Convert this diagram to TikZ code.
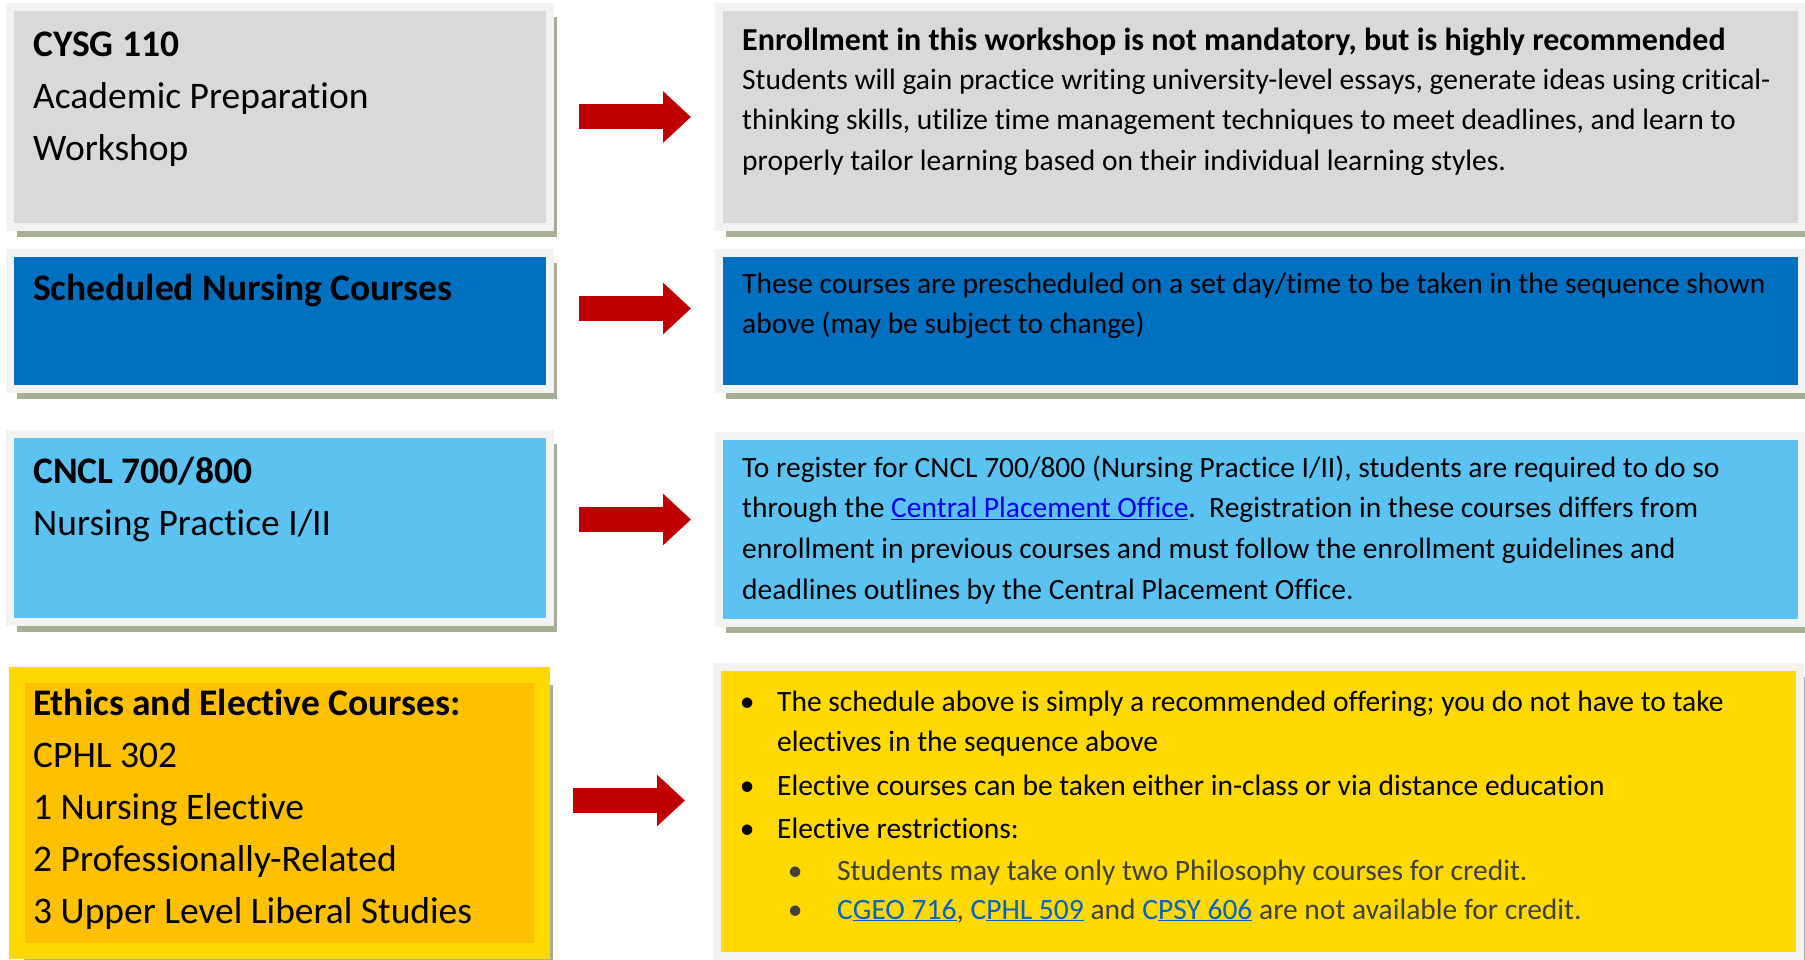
\documentclass[tikz,border=0pt]{standalone}
\usepackage{fontspec}
\setmainfont{Carlito}[Ligatures=NoCommon]
\usetikzlibrary{arrows.meta, calc, shadows}

\definecolor{boxgray}{HTML}{D9D9D9}
\definecolor{framegray}{HTML}{F2F2F2}
\definecolor{shadowolive}{HTML}{A6AE93}
\definecolor{darkblue}{HTML}{0070C0}
\definecolor{lightblue}{HTML}{5BC2F1}
\definecolor{boxyellow}{HTML}{FFD900}
\definecolor{boxorange}{HTML}{FFC000}
\definecolor{arrowred}{HTML}{C00000}
\definecolor{subgray}{HTML}{404040}
\definecolor{linkblue}{HTML}{0000EE}
\definecolor{hrefblue}{HTML}{0563C1}

\newcommand{\itm}{\makebox[10pt][c]{\textbullet}\hspace{25pt}}
\newcommand{\subitm}{\hspace*{48pt}\makebox[10pt][c]{\textbullet}\hspace{37pt}}

\tikzset{
  panel/.style={draw=framegray, line width=8pt, outer sep=4pt, inner sep=0pt, anchor=north west,
    drop shadow={shadow xshift=7pt, shadow yshift=-10pt, fill=shadowolive, opacity=1}},
  headtext/.style={anchor=base west, inner sep=0pt, font=\fontsize{37.5}{52}\selectfont},
  bodytext/.style={anchor=base west, inner sep=0pt, font=\fontsize{29.5}{40.7}\selectfont},
  redarrow/.style={draw=arrowred, line width=25pt, -{Triangle[length=28pt, width=50pt]}, shorten <=25pt, shorten >=24pt}
}

\begin{document}
\begin{tikzpicture}[x=1pt, y=-1pt]
    \useasboundingbox (0,0) rectangle (1805,960);
    % left column
    \node[panel, fill=boxgray, minimum width=540pt, minimum height=220pt] (l1) at (6,3) {};
    \node[panel, fill=darkblue, minimum width=540pt, minimum height=136pt] (l2) at (6,249) {};
    \node[panel, fill=lightblue, minimum width=540pt, minimum height=188pt] (l3) at (6,430) {};
    \node[panel, draw=boxyellow, fill=boxorange, line width=16pt, outer sep=8pt, minimum width=525pt, minimum height=276pt,
      drop shadow={shadow xshift=11pt, shadow yshift=-10pt, fill=shadowolive, opacity=1}] (l4) at (9,667) {};
    % right column
    \node[panel, fill=boxgray, minimum width=1083pt, minimum height=220pt] (r1) at (715,3) {};
    \node[panel, fill=darkblue, minimum width=1083pt, minimum height=136pt] (r2) at (715,249) {};
    \node[panel, fill=lightblue, minimum width=1083pt, minimum height=187pt] (r3) at (715,432) {};
    \node[panel, fill=boxyellow, minimum width=1083pt, minimum height=289pt] (r4) at (713,663) {};

    \node[headtext] (t1) at (33,57) {\parbox[t]{500pt}{\textbf{CYSG 110}\\Academic Preparation\\Workshop}};
    \node[headtext] (t2) at (33,301) {\parbox[t]{500pt}{\textbf{Scheduled Nursing Courses}}};
    \node[headtext] (t3) at (33,483) {\parbox[t]{500pt}{\textbf{CNCL 700/800}\\Nursing Practice I/II}};
    \node[headtext] (t4) at (33,715) {\parbox[t]{500pt}{\textbf{Ethics and Elective Courses:}\\CPHL 302\\1 Nursing Elective\\2 Professionally-Related\\3 Upper Level Liberal Studies}};

    \node[bodytext] (s1) at (742,51) {\parbox[t]{1050pt}{{\fontsize{32}{40}\selectfont\textbf{Enrollment in this workshop is not mandatory, but is highly recommended}}\\[-2.5pt]
      Students will gain practice writing university-level essays, generate ideas using critical-\\
      thinking skills, utilize time management techniques to meet deadlines, and learn to\\
      properly tailor learning based on their individual learning styles.}};
    \node[bodytext] (s2) at (742,293) {\parbox[t]{1050pt}{These courses are prescheduled on a set day/time to be taken in the sequence shown\\
      above (may be subject to change)}};
    \node[bodytext] (s3) at (742,477) {\parbox[t]{1050pt}{To register for CNCL 700/800 (Nursing Practice I/II), students are required to do so\\
      through the {\color{linkblue}\underline{Central Placement Office}}.\ \ Registration in these courses differs from\\
      enrollment in previous courses and must follow the enrollment guidelines and\\
      deadlines outlines by the Central Placement Office.}};
    \node[bodytext] (s4) at (742,711) {\parbox[t]{1050pt}{\itm The schedule above is simply a recommended offering; you do not have to take\\
      \hspace*{35pt}electives in the sequence above\\[3.5pt]
      \itm Elective courses can be taken either in-class or via distance education\\[2pt]
      \itm Elective restrictions:\\[1.5pt]
      {\color{subgray}\subitm Students may take only two Philosophy courses for credit.}\\[-2.5pt]
      {\color{subgray}\subitm {\color{hrefblue}C\underline{GEO 716}}, {\color{hrefblue}C\underline{PHL 509}} and {\color{hrefblue}C\underline{PSY 606}} are not available for credit.}}};

    % arrows
    \coordinate (a1) at (l1.east);
    \coordinate (a2) at ($(l2.east)+(0,-12.5)$);
    \coordinate (a3) at ($(l3.east)+(0,-8.5)$);
    \coordinate (a4) at ($(l4.east)+(0,-12.5)$);
    \draw[redarrow] (a1) -- (a1 -| r1.west);
    \draw[redarrow] (a2) -- (a2 -| r2.west);
    \draw[redarrow] (a3) -- (a3 -| r3.west);
    \draw[redarrow, shorten <=23pt, shorten >=28pt] (a4) -- (a4 -| r4.west);
\end{tikzpicture}
\end{document}
